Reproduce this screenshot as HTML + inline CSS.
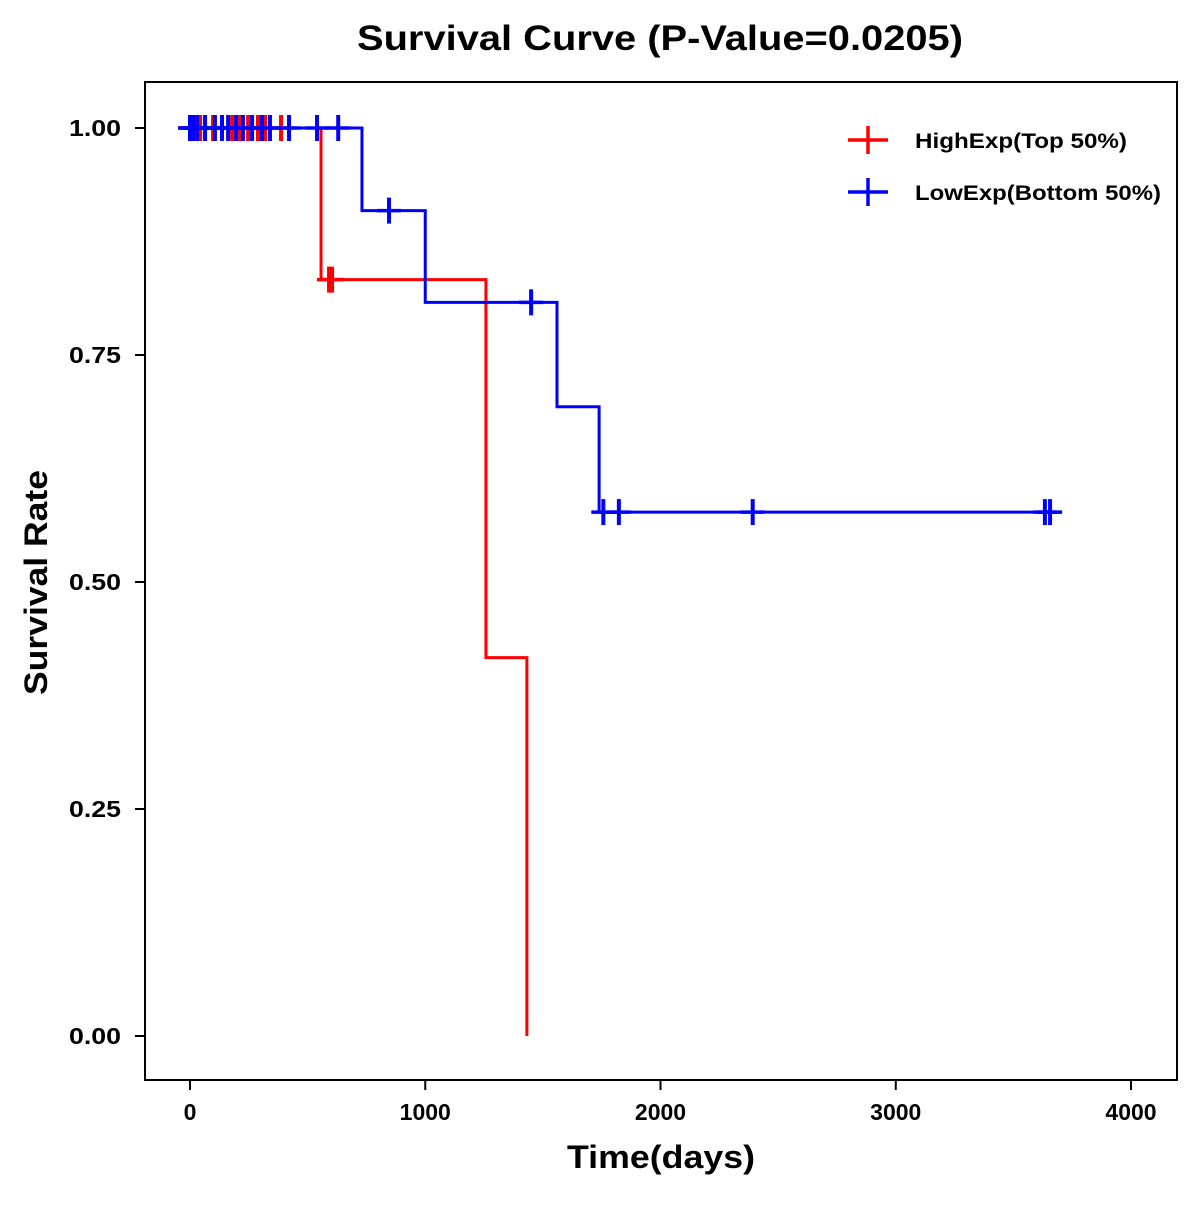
<!DOCTYPE html>
<html><head><meta charset="utf-8"><style>
body{margin:0;background:#fff}
svg text{font-family:"Liberation Sans",Arial,sans-serif;font-weight:bold}
</style></head><body>
<svg id="chart" width="1200" height="1200" xmlns="http://www.w3.org/2000/svg">
<rect width="1200" height="1200" fill="#fff"/>
<text x="357" y="50" font-size="35" textLength="606" lengthAdjust="spacingAndGlyphs">Survival Curve (P-Value=0.0205)</text>
<rect x="145" y="82" width="1032" height="998" fill="none" stroke="#000" stroke-width="2"/>
<g id="axes"></g>
<g id="series"></g>
<text x="567" y="1168" font-size="32" textLength="188" lengthAdjust="spacingAndGlyphs">Time(days)</text>
<text transform="translate(47,695) rotate(-90)" font-size="32" textLength="225" lengthAdjust="spacingAndGlyphs">Survival Rate</text>
<g>
<g>
<line x1="848" y1="140" x2="888" y2="140" stroke="#f00" stroke-width="3.5"/>
<line x1="868" y1="126" x2="868" y2="154" stroke="#f00" stroke-width="3.5"/>
<text x="915" y="148" font-size="21" textLength="212" lengthAdjust="spacingAndGlyphs">HighExp(Top 50%)</text></g>
<g>
<line x1="848" y1="192" x2="888" y2="192" stroke="#00f" stroke-width="3.5"/>
<line x1="868" y1="178" x2="868" y2="206" stroke="#00f" stroke-width="3.5"/>
<text x="915" y="200" font-size="21" textLength="246" lengthAdjust="spacingAndGlyphs">LowExp(Bottom 50%)</text></g>
</g>
</svg>
<script>
const xTicks=[0,1000,2000,3000,4000];
const yTicks=[0,0.25,0.5,0.75,1.0];
const yTickLabels=["0.00","0.25","0.50","0.75","1.00"];
const highTimes=[0,557,1258,1432];
const highSurv=[1,0.833,0.4167,0];
const highEnd=1432;
const highCensor=[0,9,43,98,179,213,247,289,319,387,591,604];
const lowTimes=[0,731,1000,1560,1739];
const lowSurv=[1,0.909,0.808,0.693,0.577];
const lowEnd=3700;
const lowCensor=[0,13,30,64,106,136,162,196,225,264,306,340,421,540,630,846,1450,1757,1823,2392,3634,3656];

const X=t=>190+t*0.23525;
const Y=s=>1036-s*908;
const NS="http://www.w3.org/2000/svg";
function mk(tag,attrs,parent){const e=document.createElementNS(NS,tag);for(const k in attrs)e.setAttribute(k,attrs[k]);parent.appendChild(e);return e;}
const axes=document.getElementById('axes');
xTicks.forEach(t=>{
  const l=mk('line',{x1:X(t),x2:X(t),y1:1080,y2:1090,stroke:'#000','stroke-width':2},axes);
  
  
  const tx=mk('text',{x:X(t),y:1120,'font-size':23,'text-anchor':'middle'},axes);
  tx.textContent=t;
  
  
});
yTicks.forEach((v,i)=>{
  const l=mk('line',{x1:135,x2:145,y1:Y(v),y2:Y(v),stroke:'#000','stroke-width':2},axes);
  
  
  const tx=mk('text',{x:121,y:Y(v)+8,'font-size':23,'text-anchor':'end',textLength:52,lengthAdjust:'spacingAndGlyphs'},axes);
  tx.textContent=yTickLabels[i];
  
  
});
const ser=document.getElementById('series');
function survAt(times,surv,t){let s=surv[0];for(let i=0;i<times.length;i++)if(times[i]<=t)s=surv[i];return s;}
function draw(times,surv,end,cens,color,name){
  let d=`M${X(times[0])},${Y(surv[0])}`;
  for(let i=1;i<times.length;i++){d+=` H${X(times[i])} V${Y(surv[i])}`;}
  d+=` H${X(end)}`;
  const p=mk('path',{d:d,fill:'none',stroke:color,'stroke-width':3},ser);
  
  
  cens.forEach(t=>{
    const s=survAt(times,surv,t);
    const g=mk('g',{},ser);
    
    
    mk('line',{x1:X(t),x2:X(t),y1:Y(s)-13,y2:Y(s)+13,stroke:color,'stroke-width':4},g);
    mk('line',{x1:X(t)-12,x2:X(t)+12,y1:Y(s),y2:Y(s),stroke:color,'stroke-width':3.5},g);
  });
}
draw(highTimes,highSurv,highEnd,highCensor,'#f00','high-exp');
draw(lowTimes,lowSurv,lowEnd,lowCensor,'#00f','low-exp');
</script>
</body></html>
